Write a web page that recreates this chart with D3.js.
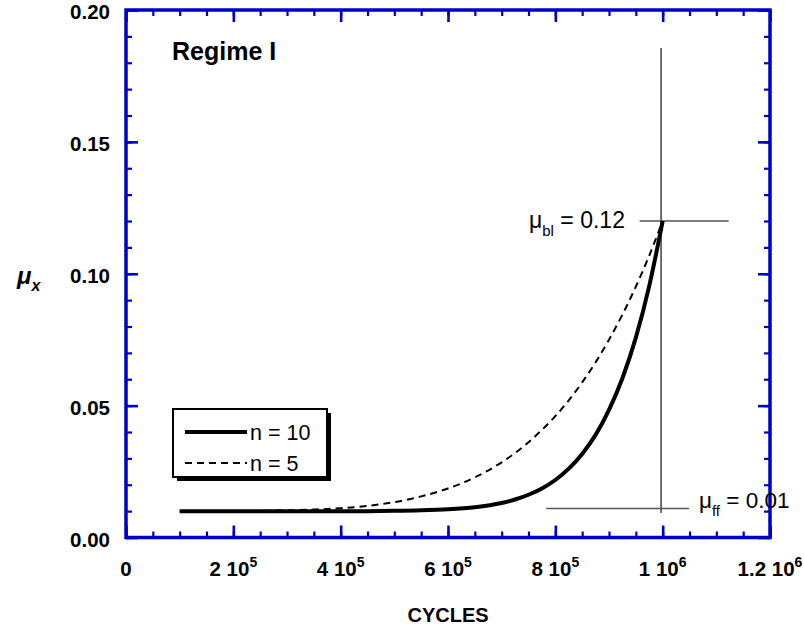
<!DOCTYPE html>
<html>
<head>
<meta charset="utf-8">
<script src="https://cdn.jsdelivr.net/npm/d3@7"></script>
<style>
  body { margin: 0; background: #fff; }
  text { font-family: "Liberation Sans", Arial, sans-serif; }
</style>
</head>
<body>
<div id="chart"></div>
<script>
// cycles (x) for both curves
var cycles = [1e5, 1.5e5, 2e5, 2.5e5, 3e5, 3.5e5, 4e5, 4.5e5, 5e5, 5.5e5,
              6e5, 6.5e5, 7e5, 7.25e5, 7.5e5, 7.75e5, 8e5, 8.25e5, 8.5e5, 8.75e5,
              9e5, 9.25e5, 9.5e5, 9.75e5, 1e6];
// n = 10
var muN10 = [0.0100, 0.0100, 0.0100, 0.0100, 0.0100, 0.0100, 0.0100, 0.0100, 0.0101, 0.0103,
             0.0107, 0.0115, 0.0131, 0.0144, 0.0162, 0.0186, 0.0218, 0.0261, 0.0317, 0.0389,
             0.0484, 0.0604, 0.0758, 0.0954, 0.1200];
// n = 5
var muN5 = [0.0100, 0.0100, 0.0100, 0.0101, 0.0103, 0.0106, 0.0111, 0.0120, 0.0134, 0.0156,
            0.0186, 0.0228, 0.0285, 0.0320, 0.0361, 0.0408, 0.0460, 0.0520, 0.0588, 0.0664,
            0.0750, 0.0845, 0.0951, 0.1069, 0.1200];

var xMajor = [0, 2e5, 4e5, 6e5, 8e5, 1e6, 1.2e6];
var xMantissa = ["0", "2", "4", "6", "8", "1", "1.2"];
var xExponent = ["", "5", "5", "5", "5", "6", "6"];
var yMajor = [0, 0.05, 0.10, 0.15, 0.20];

var seriesNames = ["n = 10", "n = 5"];
var muBl = 0.12, muFf = 0.01;

var width = 804, height = 630;
var svg = d3.select("#chart").append("svg")
  .attr("width", width)
  .attr("height", height);

var x = d3.scaleLinear().domain([0, 1.2e6]).range([126, 770]);
var y = d3.scaleLinear().domain([0, 0.2]).range([537.5, 10]);

var blue = "#0000cc";
var xMinor = d3.range(0, 1.2e6 + 1, 5e4);
var yMinor = d3.range(0, 0.2001, 0.01);

function styleTicks(g, w) {
  g.select(".domain").remove();
  g.selectAll(".tick line").attr("stroke", blue).attr("stroke-width", w);
  g.selectAll(".tick text").remove();
}

/* minor + major ticks, pointing inward on all four sides */
[[6, xMinor, yMinor, 2.2], [12, xMajor, yMajor, 2.6]].forEach(function (t) {
  svg.append("g").attr("transform", "translate(0," + y(0) + ")")
    .call(d3.axisBottom(x).tickValues(t[1]).tickSize(-t[0]))
    .call(styleTicks, t[3]);
  svg.append("g").attr("transform", "translate(0," + y(0.2) + ")")
    .call(d3.axisTop(x).tickValues(t[1]).tickSize(-t[0]))
    .call(styleTicks, t[3]);
  svg.append("g").attr("transform", "translate(" + x(0) + ",0)")
    .call(d3.axisLeft(y).tickValues(t[2]).tickSize(-t[0]))
    .call(styleTicks, t[3]);
  svg.append("g").attr("transform", "translate(" + x(1.2e6) + ",0)")
    .call(d3.axisRight(y).tickValues(t[2]).tickSize(-t[0]))
    .call(styleTicks, t[3]);
});

/* frame */
svg.append("rect")
  .attr("x", x(0)).attr("y", y(0.2))
  .attr("width", x(1.2e6) - x(0)).attr("height", y(0) - y(0.2))
  .attr("fill", "none").attr("stroke", blue).attr("stroke-width", 3.5);

/* tick labels */
var xl = svg.selectAll("text.xlab")
  .data(xMajor)
  .enter().append("text")
  .attr("class", "xlab")
  .attr("x", function (d) { return x(d); })
  .attr("y", 576)
  .attr("text-anchor", "middle")
  .attr("font-weight", "bold")
  .attr("font-size", 20.5);
xl.append("tspan").text(function (d, i) { return xExponent[i] ? xMantissa[i] + " 10" : xMantissa[i]; });
xl.append("tspan")
  .attr("dy", -9).attr("font-size", 14)
  .text(function (d, i) { return xExponent[i]; });

svg.selectAll("text.ylab")
  .data(yMajor)
  .enter().append("text")
  .attr("class", "ylab")
  .attr("x", 110)
  .attr("y", function (d) { return y(d) + 9.3; })
  .attr("text-anchor", "end")
  .attr("font-weight", "bold")
  .attr("font-size", 20.5)
  .text(function (d) { return d3.format(".2f")(d); });

/* axis titles */
svg.append("text")
  .attr("x", x(6e5)).attr("y", 622)
  .attr("text-anchor", "middle")
  .attr("font-weight", "bold").attr("font-size", 20)
  .text("CYCLES");

var yt = svg.append("text")
  .attr("x", 17).attr("y", 284)
  .attr("font-weight", "bold").attr("font-style", "italic").attr("font-size", 24);
yt.append("tspan").text("\u03bc");
yt.append("tspan").attr("dy", 7).attr("font-size", 16).text("x");

svg.append("text")
  .attr("x", 172).attr("y", 60)
  .attr("font-weight", "bold").attr("font-size", 25)
  .text("Regime I");

/* reference lines */
svg.append("line")
  .attr("x1", x(0.997e6)).attr("x2", x(0.997e6))
  .attr("y1", y(0.1856)).attr("y2", y(0.0093))
  .attr("stroke", "#222").attr("stroke-width", 1.3);
svg.append("line")
  .attr("x1", x(0.957e6)).attr("x2", x(1.123e6))
  .attr("y1", y(muBl)).attr("y2", y(muBl))
  .attr("stroke", "#555").attr("stroke-width", 1.3);
svg.append("line")
  .attr("x1", x(0.783e6)).attr("x2", x(1.049e6))
  .attr("y1", y(0.011)).attr("y2", y(0.011))
  .attr("stroke", "#555").attr("stroke-width", 1.3);

/* curves */
var line = d3.line()
  .curve(d3.curveMonotoneX)
  .x(function (d) { return x(d[0]); })
  .y(function (d) { return y(d[1]); });

svg.append("path")
  .datum(d3.zip(cycles, muN5))
  .attr("d", line)
  .attr("fill", "none").attr("stroke", "#000")
  .attr("stroke-width", 2).attr("stroke-dasharray", "7,5");

svg.append("path")
  .datum(d3.zip(cycles, muN10))
  .attr("d", line)
  .attr("fill", "none").attr("stroke", "#000")
  .attr("stroke-width", 4);

/* annotations */
var a1 = svg.append("text").attr("x", 529).attr("y", 228).attr("font-size", 23);
a1.append("tspan").text("\u03bc");
a1.append("tspan").attr("dy", 8).attr("font-size", 15).text("bl");
a1.append("tspan").attr("dy", -8).text(" = " + d3.format(".2f")(muBl));

var a2 = svg.append("text").attr("x", 699).attr("y", 508).attr("font-size", 22.5);
a2.append("tspan").text("\u03bc");
a2.append("tspan").attr("dy", 8).attr("font-size", 15).text("ff");
a2.append("tspan").attr("dy", -8).text(" = " + d3.format(".2f")(muFf));

/* legend */
var lg = svg.append("g").attr("transform", "translate(173,409)");
lg.append("rect").attr("x", 4).attr("y", 4).attr("width", 154).attr("height", 68).attr("fill", "#000");
lg.append("rect").attr("width", 154).attr("height", 68)
  .attr("fill", "#fff").attr("stroke", "#000").attr("stroke-width", 2);
var items = lg.selectAll("g.item")
  .data(seriesNames)
  .enter().append("g")
  .attr("transform", function (d, i) { return "translate(0," + (23 + i * 31) + ")"; });
items.append("line")
  .attr("x1", 12).attr("x2", 74)
  .attr("stroke", "#000")
  .attr("stroke-width", function (d, i) { return i === 0 ? 4 : 2; })
  .attr("stroke-dasharray", function (d, i) { return i === 0 ? null : "7,5"; });
items.append("text")
  .attr("x", 77).attr("y", 0).attr("dy", "0.35em")
  .attr("font-size", 21.5)
  .text(function (d) { return d; });
</script>
</body>
</html>
